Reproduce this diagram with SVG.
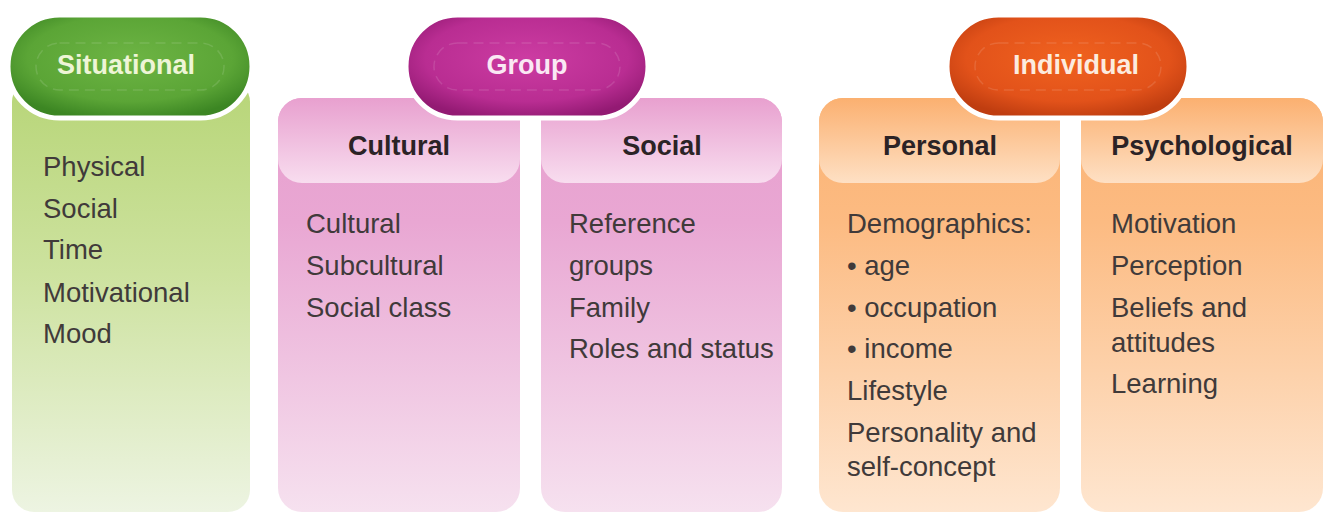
<svg xmlns="http://www.w3.org/2000/svg" width="1325" height="513" viewBox="0 0 1325 513">
  <defs>
    <!-- column bodies -->
    <linearGradient id="bodyGreen" x1="0" y1="0" x2="0" y2="1">
      <stop offset="0" stop-color="#b7d577"/>
      <stop offset="0.45" stop-color="#cde29f"/>
      <stop offset="1" stop-color="#edf4e2"/>
    </linearGradient>
    <linearGradient id="bodyPink" x1="0" y1="0" x2="0" y2="1">
      <stop offset="0" stop-color="#e79fce"/>
      <stop offset="0.3" stop-color="#e9a7d3"/>
      <stop offset="1" stop-color="#f6e1ef"/>
    </linearGradient>
    <linearGradient id="bodyOrange" x1="0" y1="0" x2="0" y2="1">
      <stop offset="0" stop-color="#fbb272"/>
      <stop offset="0.3" stop-color="#fcbb82"/>
      <stop offset="1" stop-color="#fee6d0"/>
    </linearGradient>
    <!-- header bands -->
    <linearGradient id="headPink" x1="0" y1="0" x2="0" y2="1">
      <stop offset="0" stop-color="#e8a0cf"/>
      <stop offset="1" stop-color="#f8ddef"/>
    </linearGradient>
    <linearGradient id="headOrange" x1="0" y1="0" x2="0" y2="1">
      <stop offset="0" stop-color="#fbb070"/>
      <stop offset="1" stop-color="#fee0c4"/>
    </linearGradient>
    <!-- pills -->
    <radialGradient id="pillGreen" cx="0.5" cy="0.42" r="0.6">
      <stop offset="0" stop-color="#6db444"/>
      <stop offset="0.7" stop-color="#5ba536"/>
      <stop offset="1" stop-color="#3c8623"/>
    </radialGradient>
    <radialGradient id="pillMagenta" cx="0.5" cy="0.42" r="0.6">
      <stop offset="0" stop-color="#cc3ca2"/>
      <stop offset="0.7" stop-color="#b92d92"/>
      <stop offset="1" stop-color="#931a73"/>
    </radialGradient>
    <radialGradient id="pillOrange" cx="0.5" cy="0.42" r="0.6">
      <stop offset="0" stop-color="#f0621f"/>
      <stop offset="0.7" stop-color="#e2521a"/>
      <stop offset="1" stop-color="#bf3d10"/>
    </radialGradient>
    <style>
      .pill { stroke: #ffffff; stroke-width: 5; }
      .ring { fill: none; stroke: #ffffff; stroke-opacity: 0.12; stroke-width: 1.5; stroke-dasharray: 10 6; }
      .pillText { font-family: "Liberation Sans", Arial, sans-serif; font-weight: bold; font-size: 27px; text-anchor: middle; }
      .head { font-family: "Liberation Sans", Arial, sans-serif; font-weight: bold; font-size: 27px; fill: #2b2326; text-anchor: middle; }
      .item { font-family: "Liberation Sans", Arial, sans-serif; font-size: 27.5px; fill: #403a3a; }
    </style>
  </defs>

  <rect width="1325" height="513" fill="#ffffff"/>

  <!-- Situational -->
  <g id="situational">
    <rect x="12" y="80" width="238" height="432" rx="22" fill="url(#bodyGreen)"/>
    <text class="item" x="43" y="176">Physical</text>
    <text class="item" x="43" y="218">Social</text>
    <text class="item" x="43" y="259">Time</text>
    <text class="item" x="43" y="302">Motivational</text>
    <text class="item" x="43" y="343">Mood</text>
    <rect class="pill" x="8" y="15" width="244" height="103" rx="51.5" fill="url(#pillGreen)"/>
    <rect class="ring" x="36" y="43" width="188" height="47" rx="23.5"/>
    <text class="pillText" x="126" y="74" fill="#eef5d6">Situational</text>
  </g>

  <!-- Cultural -->
  <g id="cultural">
    <rect x="278" y="98" width="242" height="414" rx="24" fill="url(#bodyPink)"/>
    <rect x="278" y="98" width="242" height="85" rx="24" fill="url(#headPink)"/>
    <text class="head" x="399" y="155">Cultural</text>
    <text class="item" x="306" y="233">Cultural</text>
    <text class="item" x="306" y="275">Subcultural</text>
    <text class="item" x="306" y="317">Social class</text>
  </g>

  <!-- Social -->
  <g id="social">
    <rect x="541" y="98" width="241" height="414" rx="24" fill="url(#bodyPink)"/>
    <rect x="541" y="98" width="241" height="85" rx="24" fill="url(#headPink)"/>
    <text class="head" x="662" y="155">Social</text>
    <text class="item" x="569" y="233">Reference</text>
    <text class="item" x="569" y="275">groups</text>
    <text class="item" x="569" y="317">Family</text>
    <text class="item" x="569" y="358">Roles and status</text>
  </g>

  <!-- Group -->
  <g id="group">
    <rect class="pill" x="406" y="15" width="242" height="103" rx="51.5" fill="url(#pillMagenta)"/>
    <rect class="ring" x="434" y="43" width="186" height="47" rx="23.5"/>
    <text class="pillText" x="527" y="74" fill="#fae8f4">Group</text>
  </g>

  <!-- Personal -->
  <g id="personal">
    <rect x="819" y="98" width="241" height="414" rx="24" fill="url(#bodyOrange)"/>
    <rect x="819" y="98" width="241" height="85" rx="24" fill="url(#headOrange)"/>
    <text class="head" x="940" y="155">Personal</text>
    <text class="item" x="847" y="233">Demographics:</text>
    <text class="item" x="847" y="275">• age</text>
    <text class="item" x="847" y="317">• occupation</text>
    <text class="item" x="847" y="358">• income</text>
    <text class="item" x="847" y="400">Lifestyle</text>
    <text class="item" x="847" y="442">Personality and</text>
    <text class="item" x="847" y="476">self-concept</text>
  </g>

  <!-- Psychological -->
  <g id="psychological">
    <rect x="1081" y="98" width="242" height="414" rx="24" fill="url(#bodyOrange)"/>
    <rect x="1081" y="98" width="242" height="85" rx="24" fill="url(#headOrange)"/>
    <text class="head" x="1202" y="155">Psychological</text>
    <text class="item" x="1111" y="233">Motivation</text>
    <text class="item" x="1111" y="275">Perception</text>
    <text class="item" x="1111" y="317">Beliefs and</text>
    <text class="item" x="1111" y="352">attitudes</text>
    <text class="item" x="1111" y="393">Learning</text>
  </g>

  <!-- Individual -->
  <g id="individual">
    <rect class="pill" x="947" y="15" width="242" height="103" rx="51.5" fill="url(#pillOrange)"/>
    <rect class="ring" x="975" y="43" width="186" height="47" rx="23.5"/>
    <text class="pillText" x="1076" y="74" fill="#fcebdf">Individual</text>
  </g>

  <g id="connectors"/>
</svg>
